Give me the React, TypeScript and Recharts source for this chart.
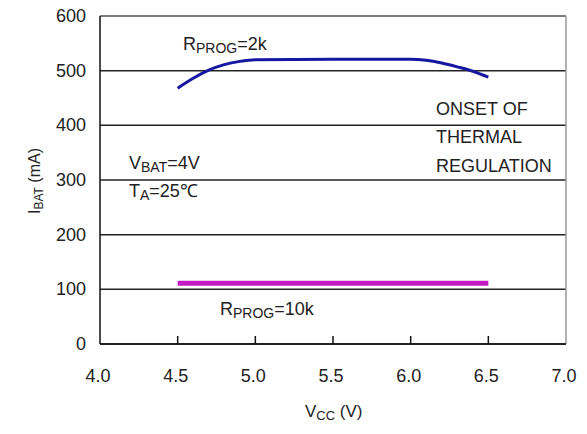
import { LineChart, Line, XAxis, YAxis, CartesianGrid, ReferenceLine } from "recharts";

// R_PROG = 2k curve
const vcc2k = [4.5, 4.6, 4.7, 4.8, 4.9, 5.0, 5.5, 6.0, 6.1, 6.2, 6.3, 6.4, 6.5];
const ibat2k = [468, 486, 501, 511, 517, 520, 521, 521, 519, 514, 507, 499, 488];

// R_PROG = 10k curve
const vcc10k = [4.5, 5.0, 5.5, 6.0, 6.5];
const ibat10k = [111, 111, 111, 111, 111];

const xTicks = [4.0, 4.5, 5.0, 5.5, 6.0, 6.5, 7.0];
const yTicks = [0, 100, 200, 300, 400, 500, 600];

const data2k = vcc2k.map((v, i) => ({ vcc: v, ibat: ibat2k[i] }));
const data10k = vcc10k.map((v, i) => ({ vcc: v, ibat: ibat10k[i] }));

const FONT = "'Liberation Sans', Arial, sans-serif";

const XTick = ({ x, y, payload }: any) => {
  const inner = payload.value > 4 && payload.value < 7;
  return (
    <g>
      {inner && <line x1={x} y1={y} x2={x} y2={y - 8} stroke="#111" strokeWidth={1.5} />}
      <text x={x - 2} y={y + 38} textAnchor="middle" fontSize={18} fill="#222" fontFamily={FONT}>
        {payload.value.toFixed(1)}
      </text>
    </g>
  );
};

const YTick = ({ x, y, payload }: any) => (
  <text x={x - 14} y={y + 6} textAnchor="end" fontSize={18} fill="#222" fontFamily={FONT}>
    {payload.value}
  </text>
);

export default function App() {
  return (
    <div style={{ position: "absolute", left: 0, top: 0, width: 587, height: 434, background: "#fff" }}>
      <LineChart width={587} height={434} margin={{ top: 16, right: 21, left: 0, bottom: 0 }}>
        <CartesianGrid vertical={false} stroke="#222" strokeWidth={1.5} />
        <XAxis
          dataKey="vcc"
          type="number"
          domain={[4, 7]}
          ticks={xTicks}
          height={90}
          tickSize={0}
          tickMargin={0}
          tickLine={false}
          tick={<XTick />}
          axisLine={{ stroke: "#111", strokeWidth: 1.5 }}
          allowDuplicatedCategory={false}
        />
        <YAxis
          type="number"
          domain={[0, 600]}
          ticks={yTicks}
          width={100}
          tickSize={0}
          tickMargin={0}
          tickLine={false}
          tick={<YTick />}
          axisLine={{ stroke: "#111", strokeWidth: 1.5 }}
        />
        <ReferenceLine y={600} stroke="#888" strokeWidth={1.5} />
        <ReferenceLine x={7} stroke="#999" strokeWidth={1.5} />
        <Line
          data={data10k}
          dataKey="ibat"
          type="linear"
          stroke="#c41cc4"
          strokeWidth={5}
          dot={false}
          isAnimationActive={false}
        />
        <Line
          data={data2k}
          dataKey="ibat"
          type="monotone"
          stroke="#1616a0"
          strokeWidth={3}
          dot={false}
          isAnimationActive={false}
        />
      </LineChart>
      <svg
        width={587}
        height={434}
        style={{ position: "absolute", left: 0, top: 0, pointerEvents: "none" }}
        fontFamily={FONT}
        fontSize={18}
        fill="#222"
      >
        <text x={183} y={50}>
          R<tspan fontSize={14} dy={3}>PROG</tspan>
          <tspan dy={-3}>=2k</tspan>
        </text>
        <text x={436} y={115}>ONSET OF</text>
        <text x={436} y={143}>THERMAL</text>
        <text x={436} y={172}>REGULATION</text>
        <text x={129} y={169}>
          V<tspan fontSize={14} dy={3}>BAT</tspan>
          <tspan dy={-3}>=4V</tspan>
        </text>
        <text x={129} y={197}>
          T<tspan fontSize={14} dy={3}>A</tspan>
          <tspan dy={-3}>=25℃</tspan>
        </text>
        <text x={220} y={315}>
          R<tspan fontSize={14} dy={3}>PROG</tspan>
          <tspan dy={-3}>=10k</tspan>
        </text>
        <text x={305} y={417} fontSize={17}>
          V<tspan fontSize={13} dy={3}>CC</tspan>
          <tspan dy={-3}> (V)</tspan>
        </text>
        <text x={40} y={181} fontSize={16} textAnchor="middle" transform="rotate(-90 40 181)">
          I<tspan fontSize={12} dy={3}>BAT</tspan>
          <tspan dy={-3}> (mA)</tspan>
        </text>
      </svg>
    </div>
  );
}
